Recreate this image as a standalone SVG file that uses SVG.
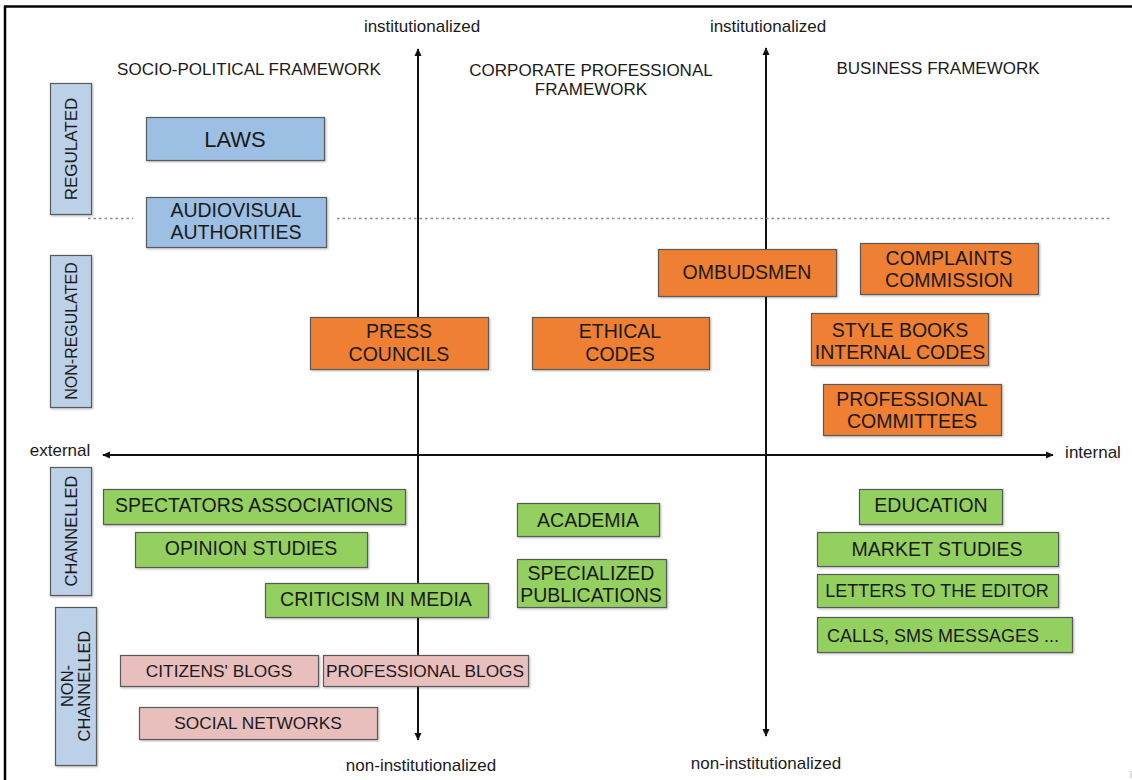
<svg xmlns="http://www.w3.org/2000/svg" width="1132" height="780" viewBox="0 0 1132 780">
<style>
text{font-family:"Liberation Sans",Arial,sans-serif;fill:#1a1a1a}
.box{stroke:#5a5a5a;stroke-width:1.2;filter:url(#sh)}
.blue{fill:#9dbfe3}
.side{fill:#bcd0e8}
.orange{fill:#ef7f31}
.green{fill:#94d060}
.pink{fill:#e9bfbe}
.t{font-size:19.5px;text-anchor:middle}
.ts{font-size:17.3px;text-anchor:middle}
.tm{font-size:18px;text-anchor:middle}
.hd{font-size:17px;text-anchor:middle}
.ax{font-size:17px;text-anchor:middle}
.axis{stroke:#111;stroke-width:2;fill:none}
.dot{stroke:#888;stroke-width:1.3;stroke-dasharray:2.5 3;fill:none}
</style>
<defs>
<filter id="sh" x="-5%" y="-10%" width="110%" height="130%">
<feDropShadow dx="1" dy="1" stdDeviation="0.8" flood-color="#000" flood-opacity="0.3"/>
</filter>
<marker id="ah" viewBox="0 0 10 10" refX="9" refY="5" markerWidth="8" markerHeight="8" markerUnits="userSpaceOnUse" orient="auto-start-reverse">
<path d="M0,0.5 L10,5 L0,9.5 z" fill="#111"/>
</marker>
</defs>
<rect width="1132" height="780" fill="#fff"/>
<!-- frame -->
<line x1="4" y1="6.5" x2="1132" y2="6.5" stroke="#000" stroke-width="2.5"/>
<line x1="5" y1="6" x2="5" y2="780" stroke="#000" stroke-width="2.5"/>
<line x1="1131" y1="771" x2="1131" y2="778" stroke="#bbb" stroke-width="1"/>

<!-- headers -->
<g id="headers">
<text class="hd" x="249" y="75">SOCIO-POLITICAL FRAMEWORK</text>
<text class="hd" x="591" y="76">CORPORATE PROFESSIONAL</text>
<text class="hd" x="591" y="95">FRAMEWORK</text>
<text class="hd" x="938" y="74">BUSINESS FRAMEWORK</text>
</g>

<!-- connectors / axes -->
<g id="connectors">
<line class="axis" x1="418" y1="740" x2="418" y2="49" marker-end="url(#ah)"/>
<line class="axis" x1="418" y1="60" x2="418" y2="740" marker-end="url(#ah)"/>
<line class="axis" x1="766" y1="736" x2="766" y2="48" marker-end="url(#ah)"/>
<line class="axis" x1="766" y1="60" x2="766" y2="736" marker-end="url(#ah)"/>
<line class="axis" x1="103" y1="455" x2="1053" y2="455" marker-start="url(#ah)" marker-end="url(#ah)"/>
<line class="dot" x1="88" y1="218.5" x2="133" y2="218.5"/>
<line class="dot" x1="337" y1="218.5" x2="1112" y2="218.5"/>
</g>

<g id="axis-labels">
<text class="ax" x="422" y="32">institutionalized</text>
<text class="ax" x="768" y="32">institutionalized</text>
<text class="ax" x="421" y="771">non-institutionalized</text>
<text class="ax" x="766" y="769">non-institutionalized</text>
<text class="ax" x="60" y="456">external</text>
<text class="ax" x="1093" y="458">internal</text>
</g>

<!-- side labels -->
<g id="regulated">
<rect class="box side" x="50.5" y="83.5" width="41" height="131"/>
<text font-size="17" text-anchor="middle" transform="translate(71,149) rotate(-90)" y="6">REGULATED</text>
</g>
<g id="non-regulated">
<rect class="box side" x="50.5" y="255.5" width="41" height="152"/>
<text font-size="16" text-anchor="middle" transform="translate(71,331) rotate(-90)" y="6">NON-REGULATED</text>
</g>
<g id="channelled">
<rect class="box side" x="50.5" y="467.5" width="41" height="128"/>
<text font-size="16.5" text-anchor="middle" transform="translate(71,531) rotate(-90)" y="6">CHANNELLED</text>
</g>
<g id="non-channelled">
<rect class="box side" x="55.5" y="607.5" width="41" height="158"/>
<text font-size="16.5" text-anchor="middle" transform="translate(76,686) rotate(-90)"><tspan x="0" y="-3">NON-</tspan><tspan x="0" y="14">CHANNELLED</tspan></text>
</g>

<!-- blue -->
<g id="laws">
<rect class="box blue" x="146.5" y="117.5" width="178" height="43"/>
<text x="235" y="147" font-size="22" text-anchor="middle">LAWS</text>
</g>
<g id="audiovisual">
<rect class="box blue" x="146.5" y="197.5" width="180" height="50"/>
<text class="t" x="236" y="217">AUDIOVISUAL</text>
<text class="t" x="236" y="239">AUTHORITIES</text>
</g>

<!-- orange -->
<g id="press-councils">
<rect class="box orange" x="310.5" y="317.5" width="178" height="52"/>
<text class="t" x="399" y="338">PRESS</text>
<text class="t" x="399" y="361">COUNCILS</text>
</g>
<g id="ethical-codes">
<rect class="box orange" x="532.5" y="317.5" width="177" height="52"/>
<text class="t" x="620" y="338">ETHICAL</text>
<text class="t" x="620" y="361">CODES</text>
</g>
<g id="ombudsmen">
<rect class="box orange" x="658.5" y="249.5" width="178" height="47"/>
<text class="t" x="747" y="279">OMBUDSMEN</text>
</g>
<g id="complaints">
<rect class="box orange" x="860.5" y="243.5" width="178" height="51"/>
<text class="t" x="949" y="265">COMPLAINTS</text>
<text class="t" x="949" y="287">COMMISSION</text>
</g>
<g id="style-books">
<rect class="box orange" x="811.5" y="313.5" width="177" height="52"/>
<text class="t" x="900" y="337">STYLE BOOKS</text>
<text class="t" x="900" y="359">INTERNAL CODES</text>
</g>
<g id="professional-committees">
<rect class="box orange" x="823.5" y="384.5" width="178" height="51"/>
<text class="t" x="912" y="406">PROFESSIONAL</text>
<text class="t" x="912" y="428">COMMITTEES</text>
</g>

<!-- green -->
<g id="spectators">
<rect class="box green" x="103.5" y="489.5" width="302" height="35"/>
<text class="t" x="254" y="512">SPECTATORS ASSOCIATIONS</text>
</g>
<g id="opinion">
<rect class="box green" x="135.5" y="532.5" width="232" height="35"/>
<text class="t" x="251" y="555">OPINION STUDIES</text>
</g>
<g id="criticism">
<rect class="box green" x="265.5" y="583.5" width="223" height="34"/>
<text class="t" x="376" y="606">CRITICISM IN MEDIA</text>
</g>
<g id="academia">
<rect class="box green" x="517.5" y="503.5" width="142" height="33"/>
<text class="t" x="588" y="527">ACADEMIA</text>
</g>
<g id="specialized">
<rect class="box green" x="517.5" y="559.5" width="149" height="48"/>
<text class="t" x="591" y="580">SPECIALIZED</text>
<text class="t" x="591" y="602">PUBLICATIONS</text>
</g>
<g id="education">
<rect class="box green" x="859.5" y="489.5" width="143" height="35"/>
<text class="t" x="931" y="512">EDUCATION</text>
</g>
<g id="market">
<rect class="box green" x="817.5" y="532.5" width="241" height="34"/>
<text class="t" x="937" y="556">MARKET STUDIES</text>
</g>
<g id="letters">
<rect class="box green" x="817.5" y="574.5" width="241" height="33"/>
<text class="tm" x="937" y="597">LETTERS TO THE EDITOR</text>
</g>
<g id="calls">
<rect class="box green" x="817.5" y="617.5" width="255" height="35"/>
<text class="tm" x="943" y="642">CALLS, SMS MESSAGES ...</text>
</g>

<!-- pink -->
<g id="citizens-blogs">
<rect class="box pink" x="120.5" y="655.5" width="198" height="31"/>
<text class="ts" x="219" y="677">CITIZENS' BLOGS</text>
</g>
<g id="professional-blogs">
<rect class="box pink" x="323.5" y="655.5" width="205" height="31"/>
<text class="ts" x="425" y="677">PROFESSIONAL BLOGS</text>
</g>
<g id="social-networks">
<rect class="box pink" x="139.5" y="707.5" width="238" height="32"/>
<text class="ts" x="258" y="729">SOCIAL NETWORKS</text>
</g>
</svg>
